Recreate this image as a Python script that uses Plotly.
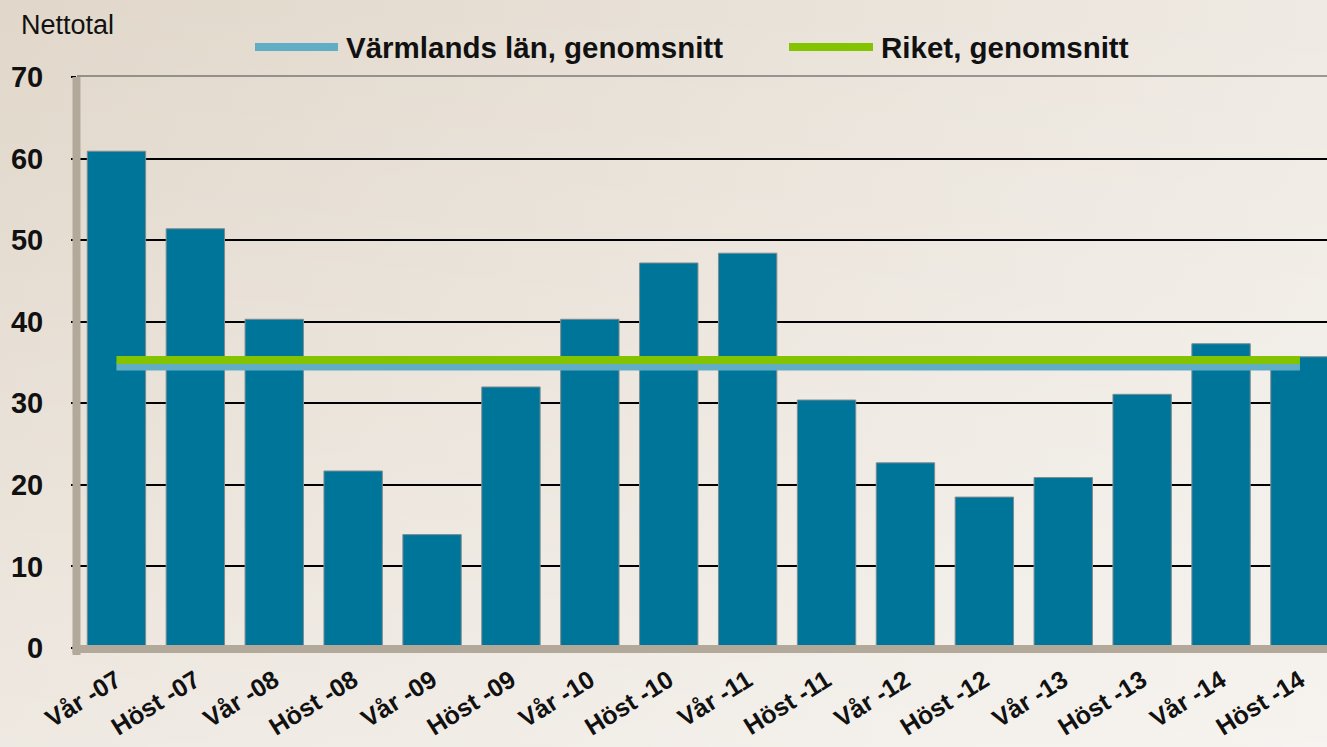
import plotly.graph_objects as go

W, H = 1327, 747

PERIODS = ["Vår -07", "Höst -07", "Vår -08", "Höst -08", "Vår -09", "Höst -09",
           "Vår -10", "Höst -10", "Vår -11", "Höst -11", "Vår -12", "Höst -12",
           "Vår -13", "Höst -13", "Vår -14", "Höst -14"]
NETTOTAL = [60.9, 51.4, 40.3, 21.7, 13.9, 32.0, 40.3, 47.2,
            48.4, 30.4, 22.7, 18.5, 20.9, 31.1, 37.3, 35.7]
VARMLAND_AVG = 34.5
RIKET_AVG = 35.3
Y_TICKS = [0, 10, 20, 30, 40, 50, 60, 70]

COLORS = {
    "bar": "#00759A",
    "bar_edge": "#7F8C90",
    "varmland": "#62ADC6",
    "riket": "#84C300",
    "wall": "#B3A99B",
    "text": "#111111",
}
FONT = "Arial, Liberation Sans, sans-serif"


def px_x(v):
    return v / W


def px_y(v):
    return 1 - v / H


fig = go.Figure()

# background gradient on a full-page hidden subplot (drawn first)
fig.add_trace(go.Scatter(
    x=[0, 1, 1, 0, 0], y=[0, 0, 1, 1, 0], mode="none", fill="toself",
    fillgradient=dict(type="horizontal",
                      colorscale=[[0, "#E1D7CA"], [1, "#EFEAE3"]]),
    xaxis="x", yaxis="y", hoverinfo="skip", showlegend=False,
))
fig.add_trace(go.Scatter(
    x=[0, 1, 1, 0, 0], y=[0, 0, 1, 1, 0], mode="none", fill="toself",
    fillgradient=dict(type="vertical",
                      colorscale=[[0, "rgba(255,255,255,0.45)"],
                                  [1, "rgba(255,255,255,0)"]]),
    xaxis="x", yaxis="y", hoverinfo="skip", showlegend=False,
))

fig.add_trace(go.Bar(
    x=PERIODS, y=NETTOTAL, xaxis="x2", yaxis="y2",
    marker=dict(color=COLORS["bar"], line=dict(color=COLORS["bar_edge"], width=1)),
    showlegend=False,
))
fig.add_trace(go.Scatter(
    x=[PERIODS[0], PERIODS[-1]], y=[VARMLAND_AVG, VARMLAND_AVG],
    xaxis="x2", yaxis="y2", mode="lines", name="Värmlands län, genomsnitt",
    line=dict(color=COLORS["varmland"], width=8), showlegend=False,
))
fig.add_trace(go.Scatter(
    x=[PERIODS[0], PERIODS[-1]], y=[RIKET_AVG, RIKET_AVG],
    xaxis="x2", yaxis="y2", mode="lines", name="Riket, genomsnitt",
    line=dict(color=COLORS["riket"], width=8), showlegend=False,
))

x_left, y_zero, y_top = 77, 648, 77
pitch = 78.9
n_visible = (W - x_left) / pitch

shapes = [
    # left wall
    dict(type="rect", xref="paper", yref="paper", x0=px_x(72.5), x1=px_x(80.5),
         y0=px_y(655), y1=px_y(y_top), fillcolor=COLORS["wall"], line_width=0, layer="above"),
    # floor
    dict(type="rect", xref="paper", yref="paper", x0=px_x(72.5), x1=1,
         y0=px_y(653), y1=px_y(645), fillcolor=COLORS["wall"], line_width=0, layer="above"),
    # top edge of the back wall
    dict(type="line", xref="paper", yref="paper", x0=px_x(77), x1=1,
         y0=px_y(y_top - 1), y1=px_y(y_top - 1), line=dict(color="#444444", width=1), layer="above"),
    # legend keys
    dict(type="line", xref="paper", yref="paper", x0=px_x(255), x1=px_x(338),
         y0=px_y(47), y1=px_y(47), line=dict(color=COLORS["varmland"], width=8), layer="above"),
    dict(type="line", xref="paper", yref="paper", x0=px_x(789), x1=px_x(873),
         y0=px_y(47), y1=px_y(47), line=dict(color=COLORS["riket"], width=8), layer="above"),
]

annotations = [
    dict(text="Nettotal", x=px_x(19), y=px_y(25), xref="paper", yref="paper",
         xanchor="left", yanchor="middle", showarrow=False,
         font=dict(family=FONT, size=27, color=COLORS["text"])),
    dict(text="<b>Värmlands län, genomsnitt</b>", x=px_x(344), y=px_y(47),
         xref="paper", yref="paper", xanchor="left", yanchor="middle", showarrow=False,
         font=dict(family=FONT, size=29.5, color=COLORS["text"])),
    dict(text="<b>Riket, genomsnitt</b>", x=px_x(879), y=px_y(47),
         xref="paper", yref="paper", xanchor="left", yanchor="middle", showarrow=False,
         font=dict(family=FONT, size=29.5, color=COLORS["text"])),
]

fig.update_layout(
    width=W, height=H,
    margin=dict(l=0, r=0, t=0, b=0, autoexpand=False),
    paper_bgcolor="#EDE7DF",
    plot_bgcolor="rgba(0,0,0,0)",
    font=dict(family=FONT, color=COLORS["text"]),
    bargap=0.26,
    showlegend=False,
    xaxis=dict(domain=[0, 1], range=[0, 1], visible=False, fixedrange=True),
    yaxis=dict(domain=[0, 1], range=[0, 1], visible=False, fixedrange=True),
    xaxis2=dict(
        domain=[px_x(x_left), 1], anchor="y2", automargin=False,
        type="category", range=[-0.5, -0.5 + n_visible],
        showgrid=False, showline=False, ticks="",
        tickangle=-32, ticklabelstandoff=12,
        tickfont=dict(family=FONT, size=25, color=COLORS["text"], weight="bold"),
    ),
    yaxis2=dict(
        domain=[1 - y_zero / H, 1 - y_top / H], anchor="x2", automargin=False,
        range=[0, 70], tickvals=Y_TICKS,
        showgrid=True, gridcolor="#000000", gridwidth=1.5,
        zeroline=False, showline=False,
        ticks="outside", ticklen=5, tickcolor="#000000", tickwidth=1.5,
        ticklabelstandoff=22,
        tickfont=dict(family=FONT, size=29, color=COLORS["text"], weight="bold"),
    ),
    shapes=shapes,
    annotations=annotations,
)

fig.write_html("out.html", config={"displayModeBar": False},
               post_script="document.body.style.margin = '0';")
